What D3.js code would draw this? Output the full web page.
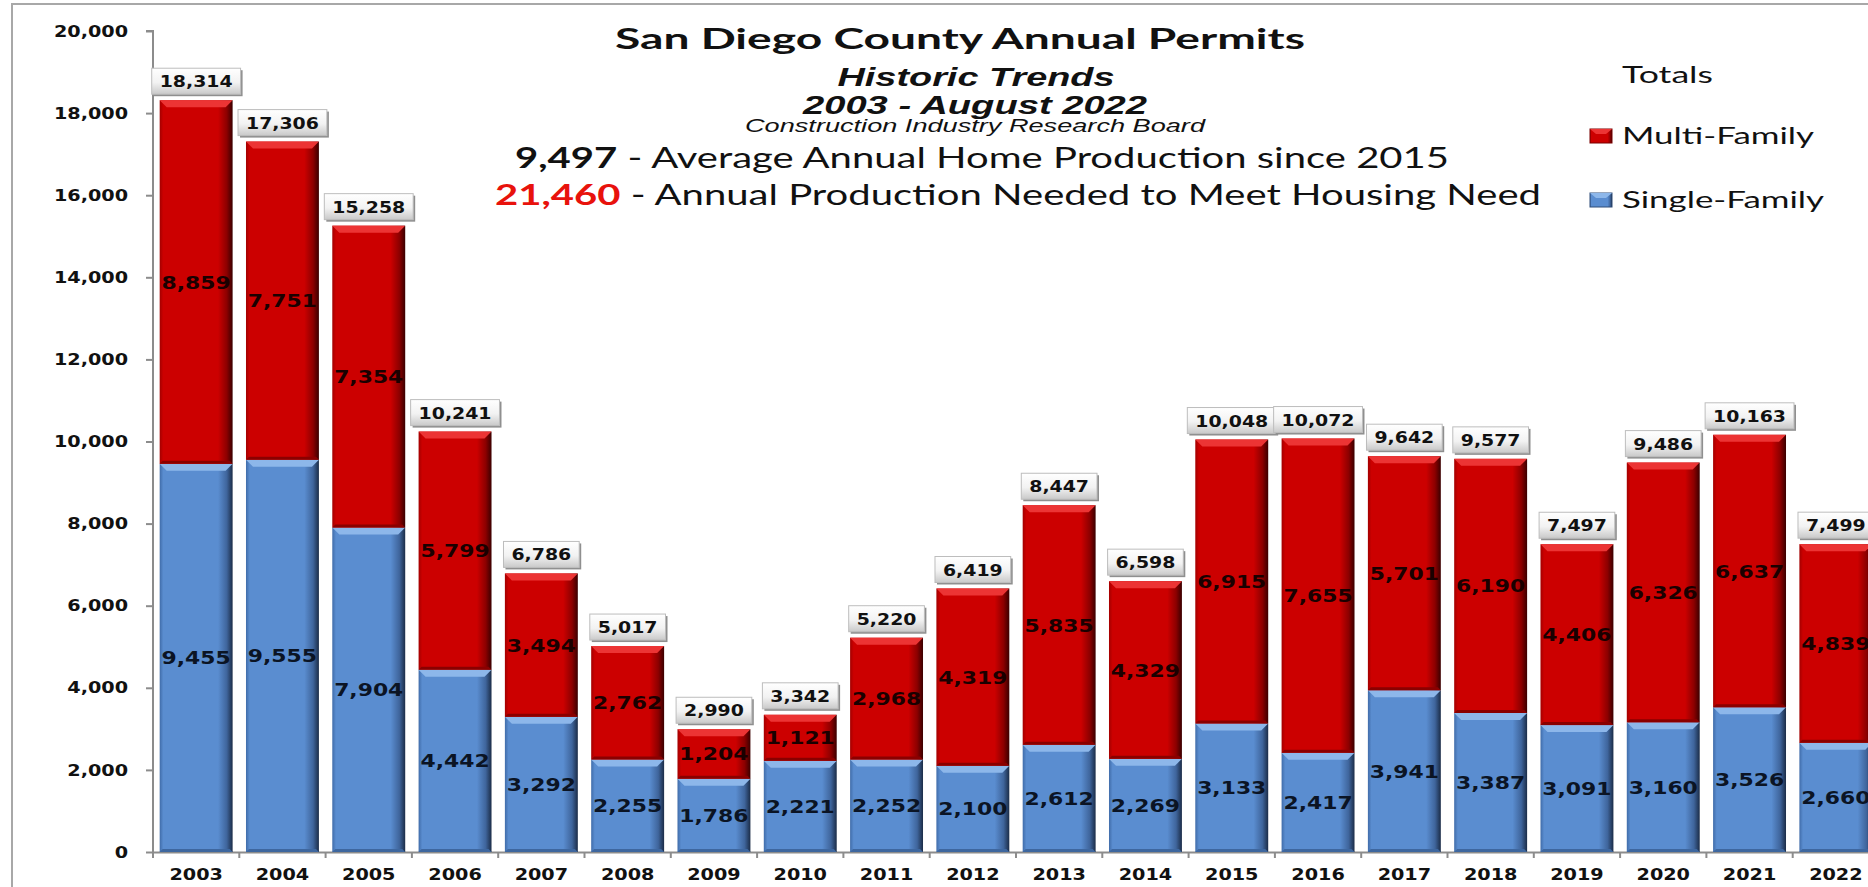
<!DOCTYPE html>
<html>
<head>
<meta charset="utf-8">
<script src="https://cdn.jsdelivr.net/npm/d3@7"></script>
<style>
  body { margin: 0; background: #fff; }
  svg { display: block; }
  .num { font-family: "DejaVu Sans", Verdana, sans-serif; font-weight: bold; fill: #111; }
  .head { font-family: Lato, "Open Sans", sans-serif; fill: #111; }
  .arial { font-family: "Liberation Sans", Arial, sans-serif; fill: #111; }
</style>
</head>
<body>
<svg id="chart" width="1868" height="887"></svg>
<script>
const YEARS = [2003, 2004, 2005, 2006, 2007, 2008, 2009, 2010, 2011, 2012,
  2013, 2014, 2015, 2016, 2017, 2018, 2019, 2020, 2021, 2022];
const SINGLE_FAMILY = [9455, 9555, 7904, 4442, 3292, 2255, 1786, 2221, 2252, 2100,
  2612, 2269, 3133, 2417, 3941, 3387, 3091, 3160, 3526, 2660];
const MULTI_FAMILY = [8859, 7751, 7354, 5799, 3494, 2762, 1204, 1121, 2968, 4319,
  5835, 4329, 6915, 7655, 5701, 6190, 4406, 6326, 6637, 4839];
const TOTALS = [18314, 17306, 15258, 10241, 6786, 5017, 2990, 3342, 5220, 6419,
  8447, 6598, 10048, 10072, 9642, 9577, 7497, 9486, 10163, 7499];
const Y_TICKS = [0, 2000, 4000, 6000, 8000, 10000, 12000, 14000, 16000, 18000, 20000];
const SERIES = ["Multi-Family", "Single-Family"];

const AVG_SINCE_2015 = 9497;
const NEEDED = 21460;

const svg = d3.select("#chart");
const fmt = d3.format(",");

const AXIS_X = 153, AXIS_Y = 852, TOP_Y = 31, STEP = 86.3;
const BEVEL = 7;

const x = d3.scaleBand()
  .domain(YEARS)
  .range([AXIS_X, AXIS_X + STEP * YEARS.length])
  .paddingInner(0.155)
  .paddingOuter(0.0775);
const y = d3.scaleLinear().domain([0, 20000]).range([AXIS_Y, TOP_Y]);

const COLORS = {
  single: { grad: "gBlue", top: "#8db7ea", bottom: "#3e679f" },
  multi: { grad: "gRed", top: "#ec3434", bottom: "#8a0000" }
};

// stretch glyphs horizontally, the source picture is widened
function stretch(sel, k) {
  sel.each(function() {
    d3.select(this)
      .attr("textLength", this.getComputedTextLength() * k)
      .attr("lengthAdjust", "spacingAndGlyphs");
  });
}
function fitText(text, width) {
  const k = width / text.node().getComputedTextLength();
  const parts = text.selectAll("tspan");
  if (parts.empty()) stretch(text, k);
  else stretch(parts, k);
}

function draw() {
  const defs = svg.append("defs");
  const hGrad = (id, stops) => {
    const g = defs.append("linearGradient").attr("id", id)
      .attr("x1", 0).attr("x2", 1).attr("y1", 0).attr("y2", 0);
    stops.forEach(s => g.append("stop").attr("offset", s[0]).attr("stop-color", s[1]));
  };
  hGrad("gBlue", [[0, "#406ca9"], [0.05, "#5a8dd0"], [0.8, "#5a8dd0"], [0.92, "#3f659c"], [1, "#1b2c47"]]);
  hGrad("gRed", [[0, "#a30000"], [0.05, "#cc0000"], [0.8, "#cc0000"], [0.92, "#8c0000"], [1, "#3a0000"]]);
  const box = defs.append("linearGradient").attr("id", "gBox")
    .attr("x1", 0).attr("x2", 0).attr("y1", 0).attr("y2", 1);
  box.append("stop").attr("offset", 0).attr("stop-color", "#ffffff");
  box.append("stop").attr("offset", 0.55).attr("stop-color", "#f2f2f2");
  box.append("stop").attr("offset", 1).attr("stop-color", "#c9c9c9");

  // outer frame
  svg.append("rect")
    .attr("x", 12).attr("y", 4)
    .attr("width", 1900).attr("height", 920)
    .attr("fill", "none").attr("stroke", "#a8a8a8").attr("stroke-width", 2);

  // header
  const title = svg.append("text").attr("class", "head")
    .attr("x", 960).attr("y", 49).attr("text-anchor", "middle")
    .style("font-size", "28px").style("font-weight", 700)
    .text("San Diego County Annual Permits");
  fitText(title, 690);

  const sub1 = svg.append("text").attr("class", "arial")
    .attr("x", 976).attr("y", 86).attr("text-anchor", "middle")
    .style("font-size", "25px").style("font-weight", 700).style("font-style", "italic")
    .text("Historic Trends");
  fitText(sub1, 277);

  const sub2 = svg.append("text").attr("class", "arial")
    .attr("x", 975).attr("y", 114).attr("text-anchor", "middle")
    .style("font-size", "25px").style("font-weight", 700).style("font-style", "italic")
    .text("2003 - August 2022");
  fitText(sub2, 344);

  const sub3 = svg.append("text").attr("class", "arial")
    .attr("x", 975).attr("y", 132).attr("text-anchor", "middle")
    .style("font-size", "18px").style("font-style", "italic")
    .text("Construction Industry Research Board");
  fitText(sub3, 460);

  const line1 = svg.append("text").attr("class", "head")
    .attr("x", 515).attr("y", 168).style("font-size", "28px");
  line1.append("tspan").style("font-weight", 700).text(fmt(AVG_SINCE_2015));
  line1.append("tspan").text(" - Average Annual Home Production since 2015");
  fitText(line1, 934);

  const line2 = svg.append("text").attr("class", "head")
    .attr("x", 495).attr("y", 205).style("font-size", "28px");
  line2.append("tspan").style("font-weight", 700).style("fill", "#e8120c").text(fmt(NEEDED));
  line2.append("tspan").text(" - Annual Production Needed to Meet Housing Need");
  fitText(line2, 1046);

  // axes
  const yAxis = svg.append("g")
    .attr("transform", "translate(" + AXIS_X + ",0)")
    .call(d3.axisLeft(y).tickValues(Y_TICKS).tickFormat(fmt).tickSize(7).tickPadding(18));
  yAxis.select(".domain").attr("stroke", "#8c8c8c").attr("stroke-width", 2)
    .attr("d", "M-7," + TOP_Y + "H0V" + AXIS_Y);
  yAxis.selectAll(".tick line").attr("stroke", "#8c8c8c").attr("stroke-width", 2);
  yAxis.selectAll(".tick text").attr("class", "num").style("font-size", "16px").attr("fill", null);
  stretch(yAxis.selectAll(".tick text"), 1.2);

  const xAxis = svg.append("g")
    .attr("transform", "translate(0," + AXIS_Y + ")")
    .call(d3.axisBottom(x).tickSize(0).tickPadding(17));
  xAxis.select(".domain").attr("stroke", "#8c8c8c").attr("stroke-width", 2);
  xAxis.selectAll(".tick text").attr("class", "num").style("font-size", "16px").attr("fill", null);
  stretch(xAxis.selectAll(".tick text"), 1.2);
  const gap = x.step() * x.paddingInner() / 2;
  const edgeX = (d, i) => d === null
    ? x(YEARS[YEARS.length - 1]) + x.bandwidth() + gap
    : (i === 0 ? AXIS_X : x(d) - gap);
  xAxis.append("g").selectAll("line")
    .data(YEARS.concat([null]))
    .join("line")
    .attr("x1", edgeX).attr("x2", edgeX)
    .attr("y1", 0).attr("y2", 6)
    .attr("stroke", "#8c8c8c").attr("stroke-width", 2);

  // stacked bars
  const rows = YEARS.map((yr, i) => ({ year: yr, single: SINGLE_FAMILY[i], multi: MULTI_FAMILY[i] }));
  const layers = d3.stack().keys(["single", "multi"])(rows);
  const bw = x.bandwidth();

  const layerG = svg.append("g").selectAll("g").data(layers).join("g");
  layerG.each(function(layer) {
    const c = COLORS[layer.key];
    const cell = d3.select(this).selectAll("g").data(layer).join("g");
    cell.append("rect")
      .attr("x", d => x(d.data.year)).attr("y", d => y(d[1]))
      .attr("width", bw).attr("height", d => y(d[0]) - y(d[1]))
      .attr("fill", "url(#" + c.grad + ")");
    cell.append("path")
      .attr("d", d => {
        const x0 = x(d.data.year), x1 = x0 + bw, t = y(d[1]);
        return "M" + x0 + "," + t + "L" + x1 + "," + t + "L" + (x1 - BEVEL) + "," + (t + BEVEL) +
          "L" + (x0 + BEVEL) + "," + (t + BEVEL) + "Z";
      })
      .attr("fill", c.top);
    cell.append("path")
      .attr("d", d => {
        const x0 = x(d.data.year), x1 = x0 + bw, b = y(d[0]);
        return "M" + x0 + "," + b + "L" + x1 + "," + b + "L" + (x1 - 3) + "," + (b - 3) +
          "L" + (x0 + 3) + "," + (b - 3) + "Z";
      })
      .attr("fill", c.bottom);
    const lab = cell.append("text").attr("class", "num")
      .attr("x", d => x(d.data.year) + bw / 2)
      .attr("y", d => (y(d[0]) + y(d[1])) / 2 + 6.5)
      .attr("text-anchor", "middle")
      .style("font-size", "17.5px")
      .style("fill", layer.key === "single" ? "#0b1424" : "#1a0000")
      .text(d => fmt(d[1] - d[0]));
    stretch(lab, 1.25);
  });

  // total callouts
  const tot = svg.append("g").selectAll("g")
    .data(YEARS.map((yr, i) => ({ year: yr, total: TOTALS[i] })))
    .join("g");
  const tText = tot.append("text").attr("class", "num")
    .attr("text-anchor", "middle")
    .style("font-size", "16px")
    .text(d => fmt(d.total));
  stretch(tText, 1.18);
  tot.each(function(d) {
    const g = d3.select(this);
    const t = g.select("text");
    const w = +t.attr("textLength") + 16, h = 26;
    const cx = x(d.year) + bw / 2, bottom = y(d.total) - 6;
    g.insert("rect", "text")
      .attr("x", cx - w / 2 + 2).attr("y", bottom - h + 2)
      .attr("width", w).attr("height", h).attr("fill", "#8f8f8f");
    g.insert("rect", "text")
      .attr("x", cx - w / 2).attr("y", bottom - h)
      .attr("width", w).attr("height", h)
      .attr("fill", "url(#gBox)").attr("stroke", "#bdbdbd").attr("stroke-width", 1);
    t.attr("x", cx).attr("y", bottom - h / 2 + 6);
  });

  // legend
  const totals = svg.append("text").attr("class", "head")
    .attr("x", 1622).attr("y", 83).style("font-size", "24px").text("Totals");
  fitText(totals, 91);
  const leg = svg.append("g").selectAll("g").data(SERIES).join("g")
    .attr("transform", (d, i) => "translate(1590," + (129 + i * 64) + ")");
  leg.append("rect").attr("width", 22).attr("height", 14)
    .attr("fill", (d, i) => i === 0 ? "url(#gRed)" : "url(#gBlue)")
    .attr("stroke", (d, i) => i === 0 ? "#7a0000" : "#2f4d78").attr("stroke-width", 1);
  leg.append("path").attr("d", "M0,0L22,0L16,5L6,5Z")
    .attr("fill", (d, i) => i === 0 ? COLORS.multi.top : COLORS.single.top);
  const legText = leg.append("text").attr("class", "head")
    .attr("x", 32).attr("y", 15).style("font-size", "24px").text(d => d);
  legText.each(function(d, i) { fitText(d3.select(this), i === 0 ? 192 : 202); });
}

document.fonts.ready.then(draw);
</script>
</body>
</html>
